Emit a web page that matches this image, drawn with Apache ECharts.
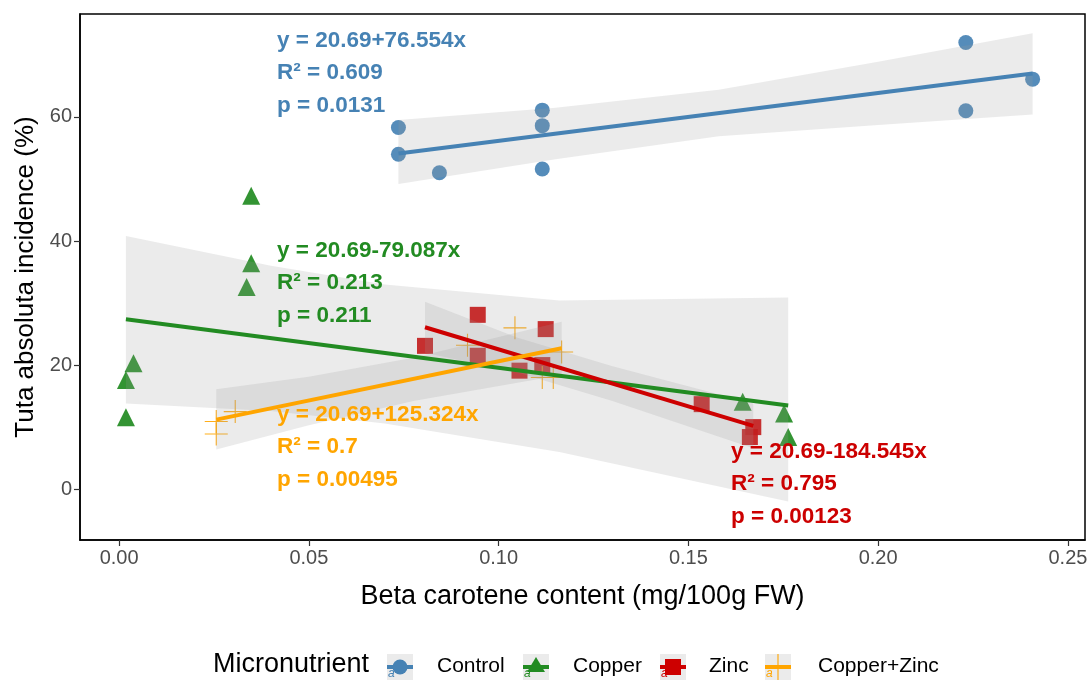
<!DOCTYPE html>
<html><head><meta charset="utf-8">
<script src="https://cdn.jsdelivr.net/npm/echarts@6/dist/echarts.min.js"></script>
<style>html,body{margin:0;padding:0;background:#fff}#c{width:1092px;height:681px}</style>
</head><body><div id="c"></div>
<script>
// ---- data ----
const groups = ['Control', 'Copper', 'Zinc', 'Copper+Zinc'];
const colors = ['#4682B4', '#228B22', '#CD0000', '#FFA500'];
const xTicks = [0, 0.05, 0.10, 0.15, 0.20, 0.25];
const yTicks = [0, 20, 40, 60];

const controlX = [0.0736, 0.0736, 0.0844, 0.1115, 0.1115, 0.1115, 0.2231, 0.2231, 0.2407];
const controlY = [58.3, 54.0, 51.0, 61.1, 58.6, 51.6, 72.0, 61.0, 66.1];
const copperX = [0.0348, 0.0348, 0.0336, 0.0038, 0.0018, 0.0018, 0.1643, 0.1752, 0.1763];
const copperY = [47.3, 36.4, 32.6, 20.3, 17.6, 11.6, 14.1, 12.2, 8.4];
const zincX = [0.0806, 0.0945, 0.0945, 0.1124, 0.1055, 0.1115, 0.1535, 0.1671, 0.1662];
const zincY = [23.1, 28.1, 21.5, 25.8, 19.1, 20.0, 13.7, 10.0, 8.4];
const cuznX = [0.0256, 0.0256, 0.0306, 0.1043, 0.0918, 0.1166, 0.1115, 0.1144];
const cuznY = [10.9, 8.9, 12.5, 26.0, 23.2, 22.1, 18.0, 18.0];

// fitted lines: [x, y]
const controlFit = [[0.0736, 54.1], [0.2407, 67.0]];
const copperFit = [[0.0018, 27.4], [0.1763, 13.5]];
const zincFit = [[0.0806, 26.1], [0.1671, 10.2]];
const cuznFit = [[0.0256, 11.2], [0.1166, 22.7]];

// confidence bands: [x, lower, upper]
const controlBand = [[0.0736, 49.2, 59.5], [0.115, 53.2, 61.5], [0.158, 56.9, 64.4], [0.20, 58.7, 68.9], [0.2407, 60.4, 73.5]];
const copperBand = [[0.0018, 13.8, 40.8], [0.04, 12.6, 36.0], [0.07, 10.6, 33.0], [0.116, 6.0, 30.4], [0.1763, -2.0, 30.9]];
const zincBand = [[0.0806, 22.0, 30.2], [0.105, 18.8, 24.4], [0.13, 14.2, 19.8], [0.1671, 6.6, 13.8]];
const cuznBand = [[0.0256, 6.4, 16.1], [0.05, 10.3, 18.1], [0.0775, 14.2, 21.2], [0.1166, 18.4, 27.0]];

const annotations = [
  ['y = 20.69+76.554x', 'R² = 0.609', 'p = 0.0131'],
  ['y = 20.69-79.087x', 'R² = 0.213', 'p = 0.211'],
  ['y = 20.69-184.545x', 'R² = 0.795', 'p = 0.00123'],
  ['y = 20.69+125.324x', 'R² = 0.7', 'p = 0.00495']
];

// ---- build ----
const FONT = '"Liberation Sans", Arial, sans-serif';
const crossPath = 'path://M0,-10L0,10M-10,0L10,0';
const pts = [[controlX, controlY], [copperX, copperY], [zincX, zincY], [cuznX, cuznY]];
const fits = [controlFit, copperFit, zincFit, cuznFit];
const bands = [controlBand, copperBand, zincBand, cuznBand];
const symbols = ['circle', 'triangle', 'rect', crossPath];
const sizes = [15, 18, 16, 23];

const series = [];
pts.forEach((p, i) => {
  const d = p[0].map((x, k) => [x, p[1][k]]);
  const s = {
    type: 'scatter', name: groups[i], data: d, symbol: symbols[i], symbolSize: sizes[i],
    itemStyle: { color: colors[i], opacity: 0.92 }, z: 2, silent: true
  };
  if (i === 3) s.itemStyle = { color: 'none', borderColor: colors[i], borderWidth: 1.1, opacity: 0.9 };
  series.push(s);
});
bands.forEach((b) => {
  series.push({
    type: 'custom', z: 3, silent: true, data: [0],
    renderItem: function (params, api) {
      const up = b.map(r => api.coord([r[0], r[2]]));
      const lo = b.slice().reverse().map(r => api.coord([r[0], r[1]]));
      return { type: 'polygon', shape: { points: up.concat(lo) }, style: { fill: 'rgba(153,153,153,0.2)' } };
    }
  });
});
fits.forEach((f, i) => {
  series.push({
    type: 'line', data: f, symbol: 'none', z: 4, silent: true,
    lineStyle: { color: colors[i], width: 4 }
  });
});

const chart = echarts.init(document.getElementById('c'), null, { renderer: 'canvas' });

const annPos = [[277, 42], [277, 252], [731, 453], [277, 416]];
const annColors = ['#4682B4', '#228B22', '#CC0000', '#FFA500'];
const graphic = [];
annotations.forEach((a, i) => {
  a.forEach((t, k) => {
    graphic.push({
      type: 'text', left: annPos[i][0], top: annPos[i][1] + k * 32.5 - 13, z: 10,
      style: { text: t, fill: annColors[i], font: 'bold 22.5px ' + FONT }
    });
  });
});
// legend
graphic.push({ type: 'text', left: 213, top: 651, style: { text: 'Micronutrient', fill: '#000', font: '27px ' + FONT } });
const keyX = [387, 523, 660, 765];
const labX = [437, 573, 709, 818];
const kw = 26, ky = 654;
groups.forEach((g, i) => {
  const cx = keyX[i] + kw / 2, cy = ky + kw / 2;
  const children = [
    { type: 'rect', shape: { x: keyX[i], y: ky, width: kw, height: kw }, style: { fill: '#EBEBEB' } },
    { type: 'line', shape: { x1: keyX[i], y1: cy, x2: keyX[i] + kw, y2: cy }, style: { stroke: colors[i], lineWidth: 4 } }
  ];
  if (i === 0) children.push({ type: 'circle', shape: { cx: cx, cy: cy, r: 7.5 }, style: { fill: colors[i] } });
  if (i === 1) children.push({ type: 'polygon', shape: { points: [[cx, cy - 10], [cx - 9, cy + 5], [cx + 9, cy + 5]] }, style: { fill: colors[i] } });
  if (i === 2) children.push({ type: 'rect', shape: { x: cx - 8, y: cy - 8, width: 16, height: 16 }, style: { fill: colors[i] } });
  if (i === 3) children.push({ type: 'line', shape: { x1: cx, y1: ky, x2: cx, y2: ky + kw }, style: { stroke: colors[i], lineWidth: 1.1 } });
  children.push({ type: 'text', x: keyX[i] + 1, y: ky + kw - 12, style: { text: 'a', fill: colors[i], font: 'italic 12px ' + FONT } });
  children.push({ type: 'text', x: labX[i], y: ky + 2, style: { text: g, fill: '#000', font: '21px ' + FONT } });
  graphic.push({ type: 'group', children: children });
});

const axisLine = { show: true, onZero: false, lineStyle: { color: '#000', width: 1.5 } };
const tick = { show: true, inside: false, length: 6, lineStyle: { color: '#333', width: 1.2 } };
chart.setOption({
  animation: false,
  backgroundColor: '#fff',
  grid: { left: 80, right: 7, top: 14, bottom: 141, show: true, borderColor: '#000', borderWidth: 1.5, backgroundColor: 'transparent' },
  xAxis: {
    type: 'value', min: -0.0103, max: 0.2545,
    name: 'Beta carotene content (mg/100g FW)', nameLocation: 'middle', nameGap: 43,
    nameTextStyle: { fontSize: 27, color: '#000', fontFamily: FONT },
    axisLine: axisLine,
    axisTick: Object.assign({ customValues: xTicks }, tick),
    axisLabel: { customValues: xTicks, color: '#4D4D4D', fontSize: 20, fontFamily: FONT, margin: 8, formatter: v => v.toFixed(2) },
    splitLine: { show: false }
  },
  yAxis: {
    type: 'value', min: -8.2, max: 76.6,
    name: 'Tuta absoluta incidence (%)', nameLocation: 'middle', nameGap: 32,
    nameTextStyle: { fontSize: 26, color: '#000', fontFamily: FONT },
    axisLine: axisLine,
    axisTick: Object.assign({ customValues: yTicks }, tick),
    axisLabel: { customValues: yTicks, color: '#4D4D4D', fontSize: 20, fontFamily: FONT, margin: 8 },
    splitLine: { show: false }
  },
  graphic: graphic,
  series: series
});
</script></body></html>
